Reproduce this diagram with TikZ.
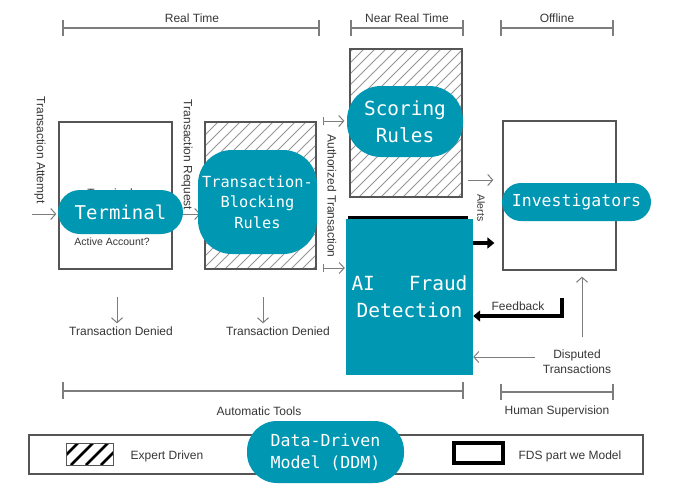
\documentclass[tikz,border=0pt]{standalone}
\usepackage{fontspec}
\setmainfont{Liberation Sans}
\newfontfamily\monof{DejaVu Sans Mono}
\usetikzlibrary{arrows.meta}
\definecolor{teal1}{RGB}{0,151,178}
\definecolor{txtgray}{RGB}{55,55,55}
\definecolor{lngray}{RGB}{125,125,125}
\definecolor{boxgray}{RGB}{85,85,85}
\definecolor{hatchgray}{RGB}{150,150,150}
\begin{document}
\begin{tikzpicture}[x=1pt,y=-1pt,
  lbl/.style={font=\fontsize{12}{14}\selectfont, text=txtgray, inner sep=0pt},
  smalllbl/.style={font=\fontsize{10.5}{12}\selectfont, text=txtgray, inner sep=0pt},
  bracket/.style={draw=lngray, line width=1.2pt},
  garrow/.style={draw=lngray, line width=1pt, -{Straight Barb[length=5pt,width=11pt]}},
  barrow/.style={draw=black, line width=3.5pt, -{Triangle[length=7pt,width=11pt]}},
  bigbox/.style={draw=boxgray, line width=1.2pt, fill=white, inner sep=0pt},
  hatched/.style={path picture={
      \foreach \i in {-200,-189,...,200}
        \draw[hatchgray, line width=1pt] ([xshift=\i pt]path picture bounding box.south west) -- ++(220pt,220pt);}},
  pill/.style={fill=teal1, text=white, inner sep=0pt, align=center},
]
\useasboundingbox[fill=white] (0,0) rectangle (681,491);

% ---- brackets on top
\draw[bracket] (63,20) -- (63,36) (63,28) -- (319,28) (319,20) -- (319,36);
\node[lbl] (rt) at (192,18) {Real Time};
\draw[bracket] (351,20) -- (351,36) (351,28) -- (463,28) (463,20) -- (463,36);
\node[lbl] (nrt) at (407,18) {Near Real Time};
\draw[bracket] (501,20) -- (501,36) (501,28) -- (613,28) (613,20) -- (613,36);
\node[lbl] (off) at (557,18) {Offline};

% ---- main boxes
\node[bigbox, minimum width=113pt, minimum height=147pt] (term) at (115.5,195.5) {};
\node[lbl] (termlbl) at (110,193) {Terminal};
\node[smalllbl] (act) at (112,242) {Active Account?};
\node[bigbox, hatched, minimum width=111pt, minimum height=147pt] (block) at (260.5,195.5) {};
\node[bigbox, hatched, minimum width=112pt, minimum height=148pt] (score) at (406,123) {};
\node[bigbox, minimum width=113pt, minimum height=149pt] (inv) at (559.5,195.5) {};
\node[draw=black, line width=3pt, minimum width=117pt, minimum height=155pt] (fds) at (407.5,294.5) {};
\node[fill=teal1, text=white, inner sep=0pt, minimum width=127pt, minimum height=156pt,
      font=\monof\fontsize{19.5}{27}\selectfont, align=center] (ai) at (409.5,296.5)
      {\makebox[116pt][s]{AI Fraud}\\Detection};

% ---- vertical labels
\node[lbl, rotate=-90] (tatt) at (40,150) {Transaction Attempt};
\node[lbl, rotate=-90] (treq) at (187,155) {Transaction Request};
\node[lbl, rotate=-90] (auth) at (332,196) {Authorized Transaction};
\node[smalllbl, rotate=-90] (alerts) at (481,208) {Alerts};

% ---- connectors
\coordinate (ta) at (32,214);
\draw[garrow] (ta) -- ([xshift=-2pt]ta -| term.west);
\draw[garrow] ([xshift=4pt]term.east |- ta) -- ([xshift=-4pt]block.west |- ta);
\coordinate (au1) at (323,121);
\coordinate (au2) at (323,268);
\draw[garrow, {Bar[width=8pt]}-{Straight Barb[length=5pt,width=11pt]}] (au1) -- ([xshift=-5pt]au1 -| score.west);
\draw[garrow, {Bar[width=8pt]}-{Straight Barb[length=5pt,width=11pt]}] (au2) -- ([xshift=-1pt]au2 -| ai.west);
\coordinate (al) at (468,180);
\draw[garrow] (al) -- ([xshift=-9pt]al -| inv.west);
\coordinate (bk) at (0,243);
\draw[barrow] (ai.east |- bk) -- ([xshift=-8pt]inv.west |- bk);
\coordinate (fb) at (562,298);
\coordinate (fbh) at (0,316);
\draw[barrow, line cap=butt] (fb) |- (ai.east |- fbh);
\node[lbl] (feed) at (518,306) {Feedback};
\node[lbl, align=center, font=\fontsize{12}{15}\selectfont] (disp) at (577,362) {Disputed\\Transactions};
\coordinate (dup) at (582,337);
\draw[garrow] (dup) -- ([yshift=-6pt]dup |- inv.south);
\coordinate (dl) at (535,357);
\draw[garrow] (dl) -- (dl -| ai.east);

\coordinate (td1) at (117,297);
\coordinate (td2) at (263,297);
\node[lbl] (den1) at (121,331) {Transaction Denied};
\node[lbl] (den2) at (278,331) {Transaction Denied};
\draw[garrow] (td1) -- ([yshift=3pt]td1 |- den1.north);
\draw[garrow] (td2) -- ([yshift=3pt]td2 |- den2.north);

% ---- bottom brackets
\draw[bracket] (63,382) -- (63,399) (63,391) -- (463,391) (463,382) -- (463,399);
\node[lbl] (auto) at (259,411) {Automatic Tools};
\draw[bracket] (501,384) -- (501,400) (501,392) -- (613,392) (613,384) -- (613,400);
\node[lbl] (hum) at (557,411) {Human Supervision};

% ---- legend
\node[draw=boxgray, line width=1.2pt, minimum width=614pt, minimum height=39pt] (legend) at (336,454.5) {};
\node[draw=boxgray, line width=1pt, minimum width=47pt, minimum height=22pt,
      path picture={\foreach \i in {-25,-10,...,60}
        \draw[black, line width=2.5pt] ([xshift=\i pt]path picture bounding box.south west) -- ++(30pt,30pt);}] (sw1) at (89.5,454) {};
\node[lbl] (exp) at (167,456) {Expert Driven};
\node[draw=black, line width=4pt, minimum width=49pt, minimum height=20pt] (sw2) at (478,453) {};
\node[lbl] (fdsl) at (570,456) {FDS part we Model};

% ---- teal overlays
\node[pill, rounded corners=22pt, minimum width=125pt, minimum height=44pt,
      font=\monof\fontsize{19}{22}\selectfont] (tterm) at (120.5,212) {Terminal};
\node[pill, rounded corners=34pt, minimum width=119pt, minimum height=104pt,
      font=\monof\fontsize{15.3}{20.5}\selectfont] (tblock) at (257.5,202) {Transaction-\\Blocking\\Rules};
\node[pill, rounded corners=34pt, minimum width=116pt, minimum height=71pt,
      font=\monof\fontsize{19.4}{27}\selectfont] (tscore) at (405,121.5) {Scoring\\Rules};
\node[pill, rounded corners=19pt, minimum width=149pt, minimum height=38pt,
      font=\monof\fontsize{16.5}{20}\selectfont] (tinv) at (576.5,202) {Investigators};
\node[pill, rounded corners=30pt, minimum width=157pt, minimum height=62pt,
      font=\monof\fontsize{16.6}{22}\selectfont] (tddm) at (325.5,452) {Data-Driven\\Model (DDM)};
\end{tikzpicture}
\end{document}
